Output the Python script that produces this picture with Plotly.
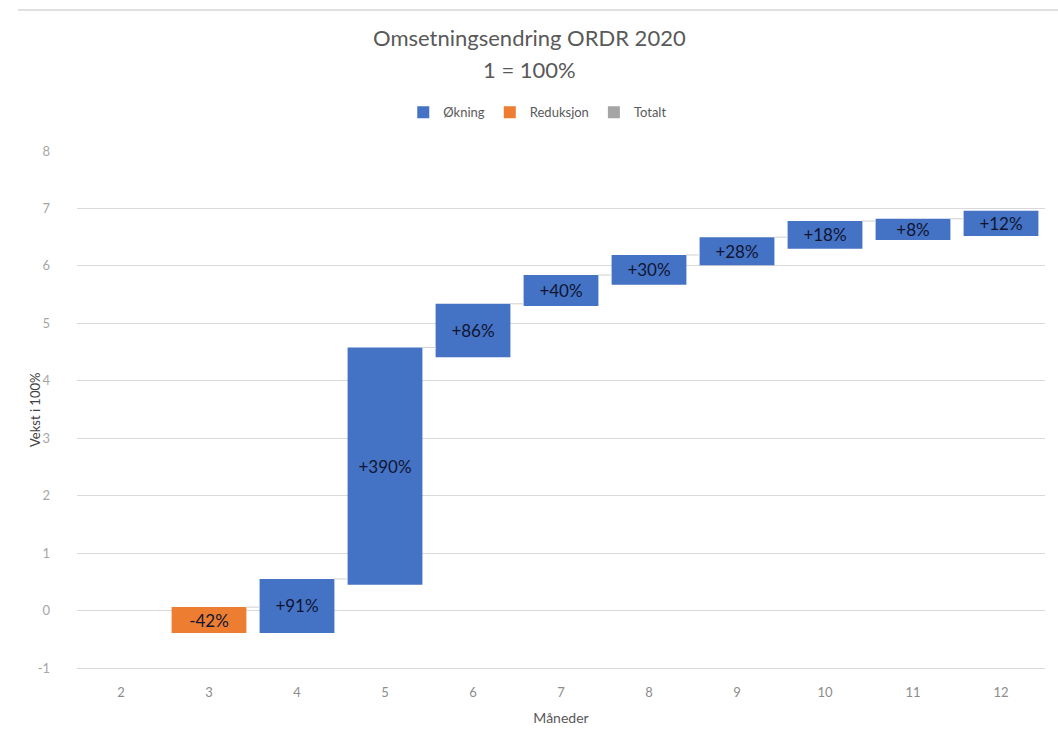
import plotly.graph_objects as go

months = ["2", "3", "4", "5", "6", "7", "8", "9", "10", "11", "12"]
bar_bottom = [None, -0.39, -0.39, 0.45, 4.41, 5.30, 5.67, 6.01, 6.30, 6.45, 6.52]
bar_top = [None, 0.06, 0.55, 4.58, 5.34, 5.84, 6.19, 6.50, 6.78, 6.82, 6.96]
labels = ["", "-42%", "+91%", "+390%", "+86%", "+40%", "+30%", "+28%", "+18%", "+8%", "+12%"]
kind = ["", "Reduksjon", "Økning", "Økning", "Økning", "Økning", "Økning", "Økning", "Økning", "Økning", "Økning"]
y_ticks = [-1, 0, 1, 2, 3, 4, 5, 6, 7, 8]
y_tick_text = ["-1", "0", "1", "2", "3", "4", "5", "6", "7", "8"]

colors = {"Økning": "#4472C4", "Reduksjon": "#ED7D31", "Totalt": "#A5A5A5"}
FONT = "Lato"

fig = go.Figure()

for name in ["Økning", "Reduksjon", "Totalt"]:
    xs, bases, hs, txt = [], [], [], []
    for m, b, t, l, k in zip(months, bar_bottom, bar_top, labels, kind):
        if k == name and b is not None:
            xs.append(m)
            bases.append(b)
            hs.append(t - b)
            txt.append(l)
    if not xs:
        xs, bases, hs, txt = [months[0]], [None], [None], [""]
    fig.add_trace(go.Bar(
        x=xs, y=hs, base=bases, name=name, text=txt,
        marker=dict(color=colors[name], line=dict(width=0)),
        textposition="inside", insidetextanchor="middle",
        textfont=dict(family=FONT, size=17, color="#101532"),
        constraintext="none", hoverinfo="skip",
    ))

# connector lines between consecutive bars (from top of one bar)
cx, cy = [], []
for i in range(1, len(months) - 1):
    if bar_top[i] is not None and bar_top[i + 1] is not None:
        cx += [i + 0.42, i + 1 - 0.42, None]
        cy += [bar_top[i], bar_top[i], None]
fig.add_trace(go.Scatter(
    x=cx, y=cy, mode="lines", xaxis="x2", showlegend=False,
    line=dict(color="#D0D0D0", width=1), hoverinfo="skip",
))

plot_h = 736 - 151 - 68
plot_w = 1058 - 77 - 13

fig.update_layout(
    width=1058, height=736,
    paper_bgcolor="white", plot_bgcolor="white",
    margin=dict(l=77, r=13, t=151, b=68),
    barmode="overlay", bargap=0.15,
    font=dict(family=FONT, color="#595959"),
    showlegend=True,
    legend=dict(orientation="h", x=0.476, xanchor="center", y=1.075, yanchor="middle",
                font=dict(family=FONT, size=13, color="#595959"),
                itemwidth=30, traceorder="normal", bgcolor="rgba(0,0,0,0)"),
    xaxis=dict(type="category", categoryorder="array", categoryarray=months,
               automargin=False,
               showgrid=False, showline=True, linecolor="#D9D9D9", linewidth=1,
               ticks="", ticklabelstandoff=12,
               tickfont=dict(family=FONT, size=13, color="#8C8C8C"),
               title=dict(text="Måneder", font=dict(family=FONT, size=14, color="#595959"),
                          standoff=14)),
    xaxis2=dict(overlaying="x", range=[-0.5, len(months) - 0.5], visible=False),
    yaxis=dict(range=[-1, 8], tickmode="array", tickvals=y_ticks, ticktext=y_tick_text,
               automargin=False,
               showgrid=True, gridcolor="#D9D9D9", gridwidth=1,
               zeroline=False, showline=False, ticks="",
               tickfont=dict(family=FONT, size=13, color="#A6A6A6"),
               ticklabelstandoff=26),
    annotations=[
        dict(text="Omsetningsendring ORDR 2020", x=(529 - 77) / plot_w,
             y=(736 - 68 - 38) / plot_h, xref="paper", yref="paper",
             xanchor="center", yanchor="middle",
             showarrow=False, font=dict(family=FONT, size=22, color="#595959")),
        dict(text="1 = 100%", x=(529 - 77) / plot_w,
             y=(736 - 68 - 70) / plot_h, xref="paper", yref="paper",
             xanchor="center", yanchor="middle",
             showarrow=False, font=dict(family=FONT, size=22, color="#595959")),
        dict(text="Vekst i 100%", x=(35 - 77) / plot_w, y=(736 - 68 - 410) / plot_h,
             xref="paper", yref="paper", xanchor="center", yanchor="middle",
             textangle=-90, showarrow=False,
             font=dict(family=FONT, size=13, color="#404040")),
    ],
)

fig.add_shape(type="line", xref="paper", yref="paper",
              x0=(18 - 77) / plot_w, x1=(1058 - 77) / plot_w,
              y0=(736 - 68 - 10) / plot_h, y1=(736 - 68 - 10) / plot_h,
              line=dict(color="#E0E0E0", width=2))

fig.write_html("out.html")
